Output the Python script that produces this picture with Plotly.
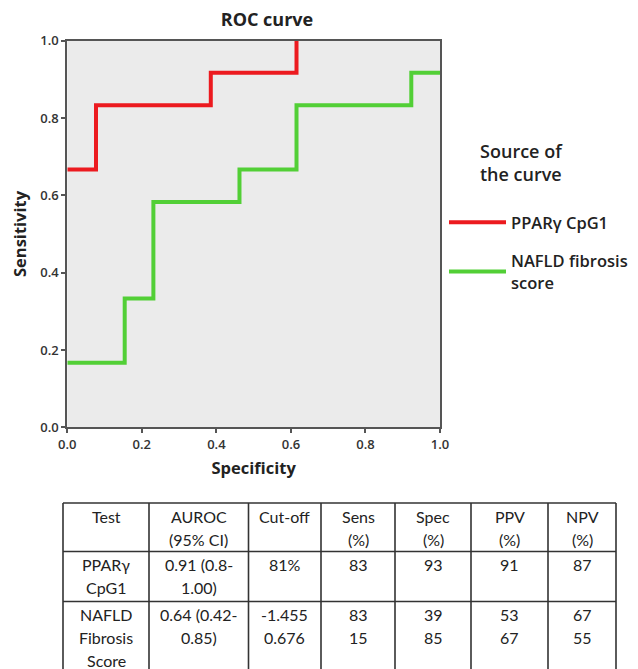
import plotly.graph_objects as go

# ROC data (step curves)
ppar_spec = [0.0, 0.077, 0.385, 0.615]
ppar_sens = [0.667, 0.833, 0.917, 1.0]
nafld_spec = [0.0, 0.154, 0.231, 0.462, 0.615, 0.923, 1.0]
nafld_sens = [0.167, 0.333, 0.583, 0.667, 0.833, 0.917, 0.917]

series_names = ["PPAR\u03b3 CpG1", "NAFLD fibrosis<br>score"]
tick_vals = [0.0, 0.2, 0.4, 0.6, 0.8, 1.0]
legend_title = "Source of<br>the curve"

# Table data
tbl_header = ["Test", "AUROC<br>(95% CI)", "Cut-off", "Sens<br>(%)", "Spec<br>(%)", "PPV<br>(%)", "NPV<br>(%)"]
col_test = ["PPAR\u03b3<br>CpG1", "NAFLD<br>Fibrosis<br>Score"]
col_auroc = ["0.91 (0.8-<br>1.00)", "0.64 (0.42-<br>0.85)"]
col_cutoff = ["81%", "-1.455<br>0.676"]
col_sens = ["83", "83<br>15"]
col_spec = ["93", "39<br>85"]
col_ppv = ["91", "53<br>67"]
col_npv = ["87", "67<br>55"]

FONT = "Open Sans"
TFONT = "Lato"
W, H = 638, 669
OFF = 8  # default page body margin


def px_x(p):
    return (p - OFF) / W


def px_y(p):
    return 1 - (p - OFF) / H


fig = go.Figure()
fig.add_trace(go.Scatter(x=ppar_spec, y=ppar_sens, mode="lines", line=dict(shape="hv", color="#ec1a1f", width=4),
                         name=series_names[0], legendgroup="a"))
fig.add_trace(go.Scatter(x=nafld_spec, y=nafld_sens, mode="lines", line=dict(shape="hv", color="#52cf36", width=4),
                         name=series_names[1], legendgroup="b"))

# ---- table drawn with shapes + annotations (layout geometry in pixels) ----
col_edges = [63, 149, 248.5, 321, 395, 471, 548, 616]
row_edges = [503, 551.5, 601.5, 720]
LINE_GAP = 23
FIRST = 13

shapes = []
for xe in col_edges:
    shapes.append(dict(type="line", xref="paper", yref="paper", x0=px_x(xe), x1=px_x(xe),
                       y0=px_y(row_edges[0]), y1=px_y(row_edges[-1]), line=dict(color="#333", width=1.6)))
for ye in row_edges[:-1]:
    shapes.append(dict(type="line", xref="paper", yref="paper", x0=px_x(col_edges[0]), x1=px_x(col_edges[-1]),
                       y0=px_y(ye), y1=px_y(ye), line=dict(color="#333", width=1.6)))

columns = [col_test, col_auroc, col_cutoff, col_sens, col_spec, col_ppv, col_npv]
rows = [tbl_header] + [[c[i] for c in columns] for i in range(2)]
annotations = []
for r, row in enumerate(rows):
    for c, txt in enumerate(row):
        cx = (col_edges[c] + col_edges[c + 1]) / 2
        for k, line in enumerate(txt.split("<br>")):
            cy = row_edges[r] + FIRST + k * LINE_GAP
            annotations.append(dict(text=line, x=px_x(cx), y=px_y(cy), xref="paper", yref="paper",
                                    xanchor="center", yanchor="middle", showarrow=False,
                                    font=dict(family=TFONT, size=16, color="#222")))

# legend title, centred above the legend entries
annotations.append(dict(text=legend_title, x=px_x(521), y=px_y(137), xref="paper", yref="paper",
                        xanchor="center", yanchor="top", align="center", showarrow=False,
                        font=dict(family=FONT, size=18, color="#222", weight=600)))

axis_common = dict(range=[0, 1], tickvals=tick_vals, tickformat=".1f", showgrid=False, zeroline=False,
                   showline=True, linecolor="#555", linewidth=2, mirror=True, ticks="outside",
                   ticklen=4, tickcolor="#555", tickwidth=1.5, automargin=False,
                   tickfont=dict(family=FONT, size=13, color="#333", weight=600))

fig.update_layout(
    width=W, height=H,
    margin=dict(l=0, r=0, t=0, b=0),
    paper_bgcolor="white",
    plot_bgcolor="#ebebeb",
    font=dict(family=FONT, color="#222"),
    title=dict(text="ROC curve", x=px_x(267), xanchor="center", y=px_y(20), yanchor="middle",
               font=dict(family=FONT, size=18, color="#222", weight=700)),
    xaxis=dict(domain=[px_x(67.3), px_x(440)], anchor="y",
               title=dict(text="Specificity", font=dict(family=FONT, size=16.5, weight=700), standoff=11),
               **axis_common),
    yaxis=dict(domain=[px_y(427.3), px_y(40.7)], anchor="x",
               title=dict(text="Sensitivity", font=dict(family=FONT, size=16.5, weight=700), standoff=11),
               **axis_common),
    legend=dict(x=px_x(444), y=px_y(205), xanchor="left", yanchor="top",
                font=dict(family=FONT, size=16.5, color="#222", weight=600),
                tracegroupgap=14, itemwidth=57, bgcolor="rgba(0,0,0,0)"),
    showlegend=True,
    shapes=shapes,
    annotations=annotations,
)

fig.write_html("out.html")
